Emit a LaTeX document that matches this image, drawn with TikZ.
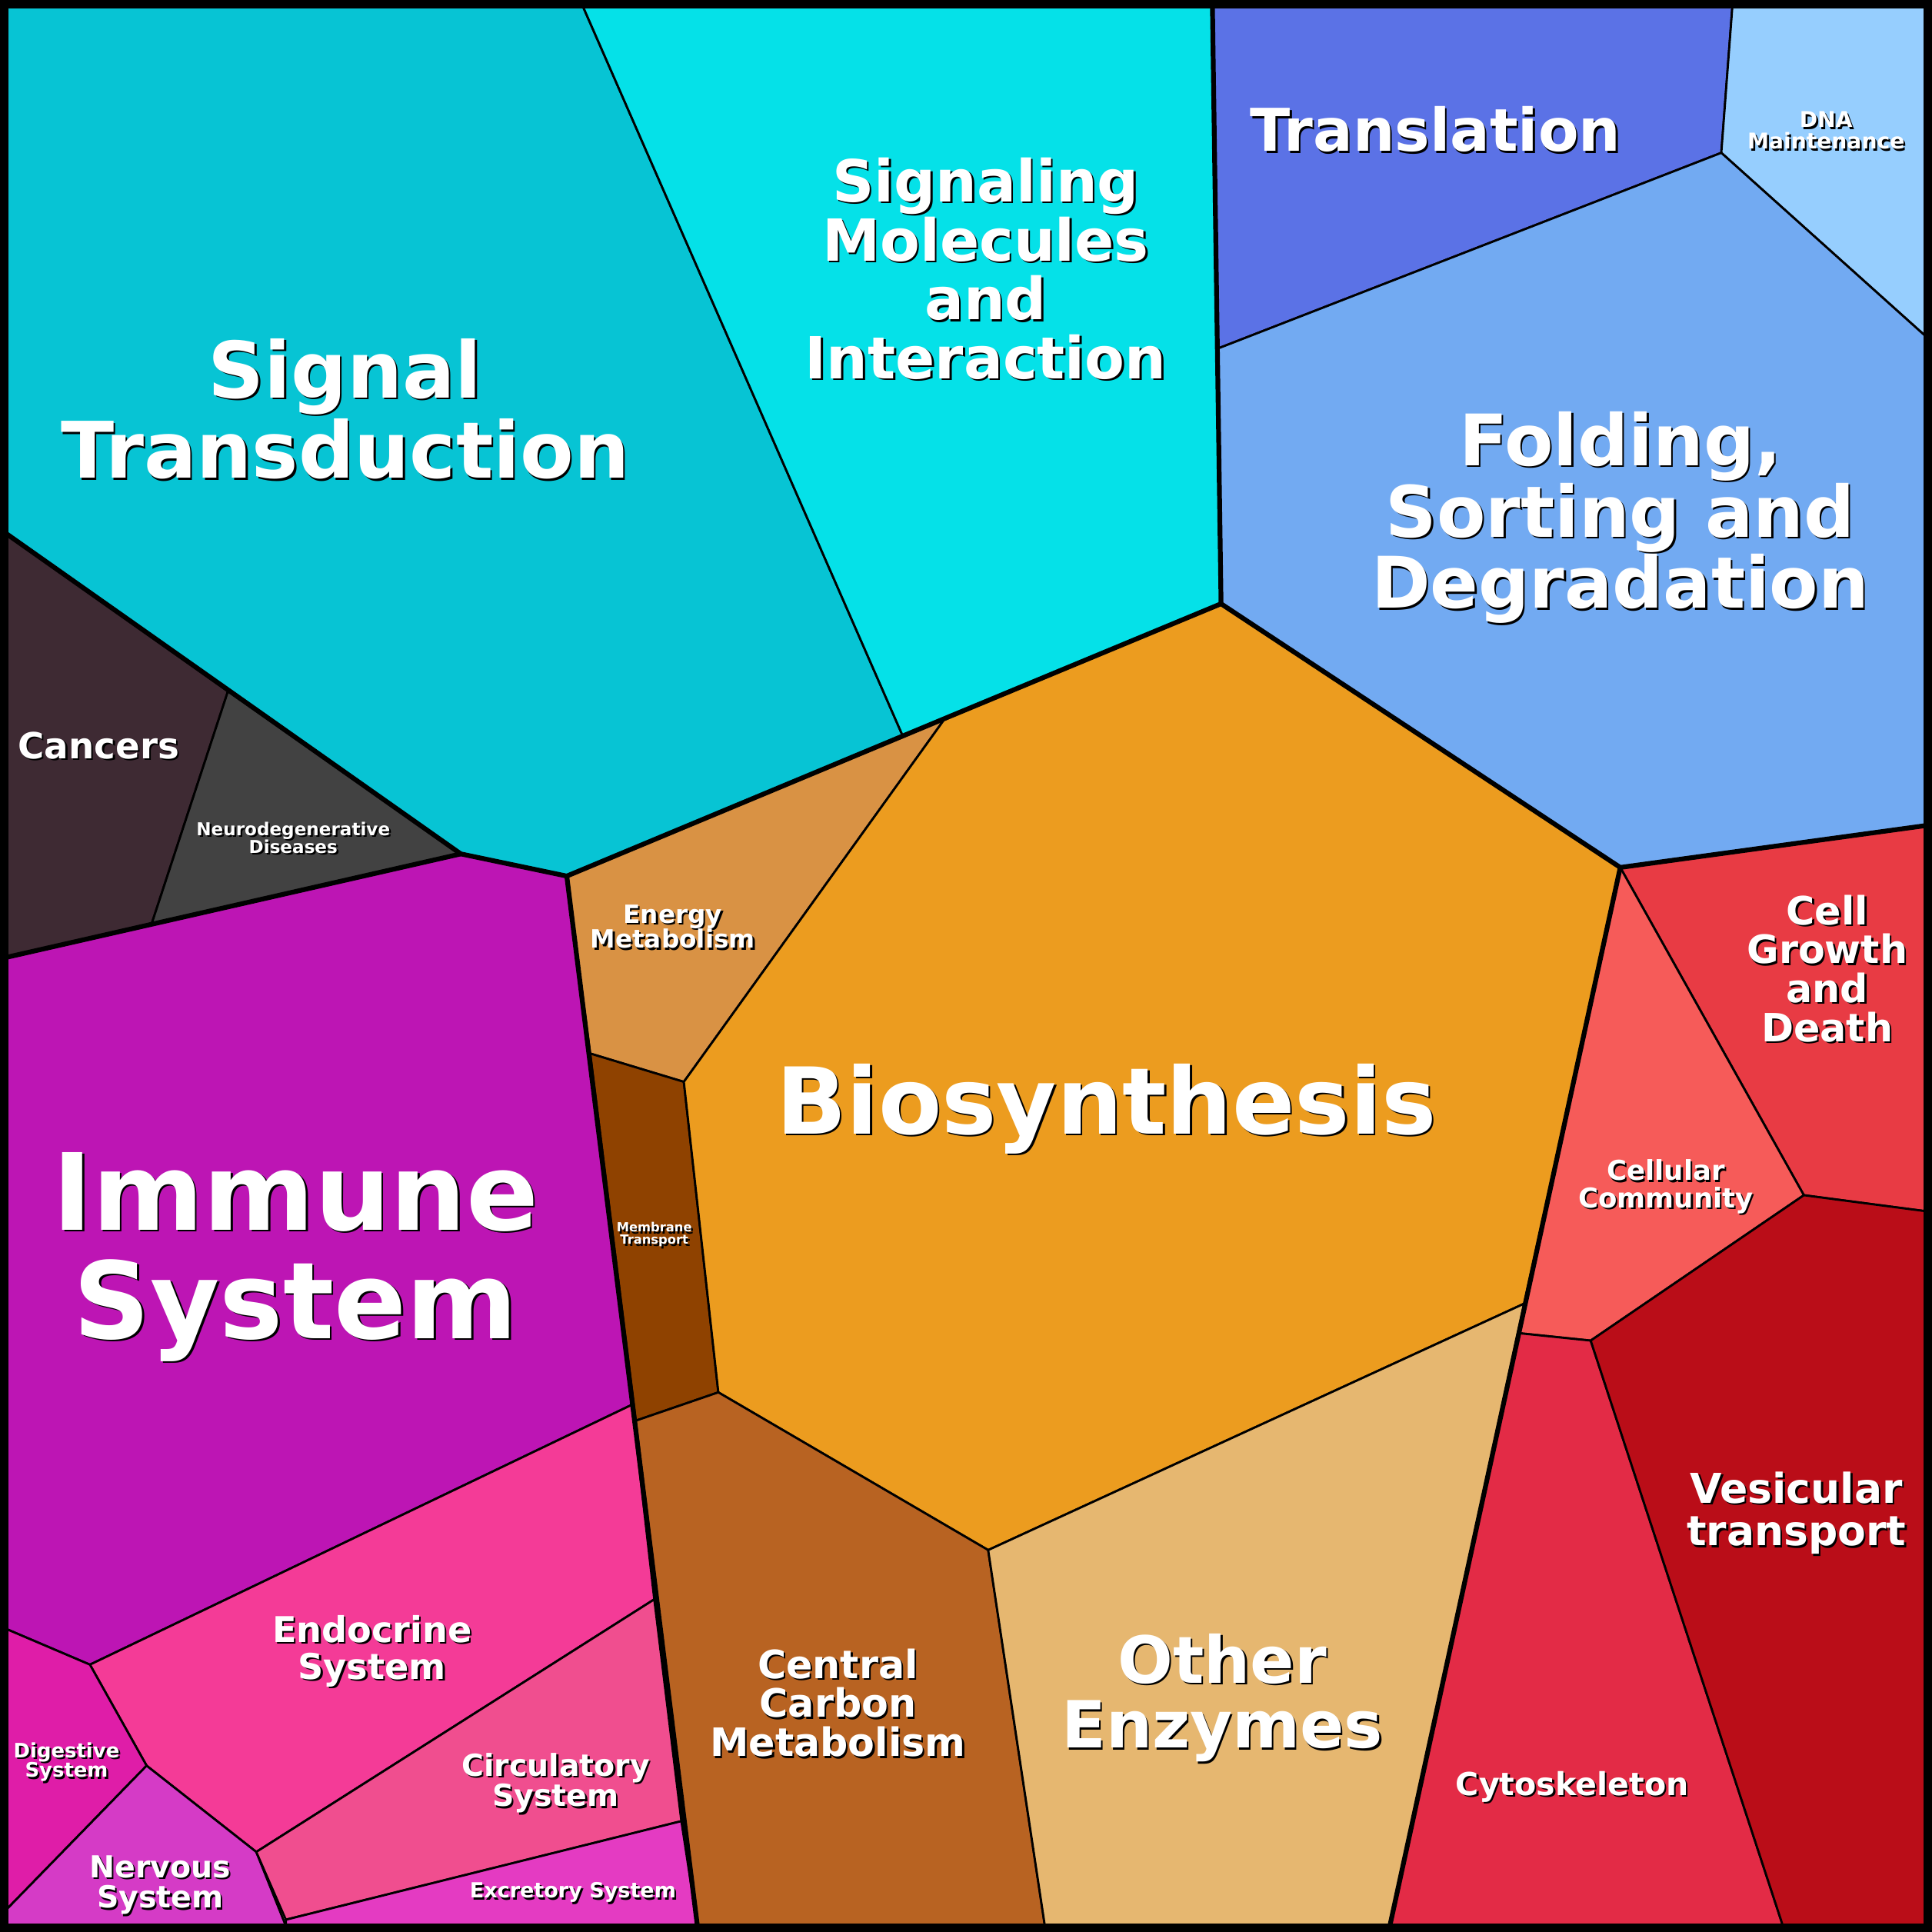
\documentclass[tikz,border=0pt]{standalone}
\usepackage{fontspec}
\setmainfont{DejaVu Sans}
\definecolor{sigtr}{HTML}{07C4D4}
\definecolor{sigmol}{HTML}{05E1E8}
\definecolor{transl}{HTML}{5B72E6}
\definecolor{dnam}{HTML}{96CEFE}
\definecolor{fold}{HTML}{72AAF2}
\definecolor{cancer}{HTML}{3E2A33}
\definecolor{neuro}{HTML}{424242}
\definecolor{immune}{HTML}{BD15B4}
\definecolor{energy}{HTML}{D99244}
\definecolor{membr}{HTML}{8F4200}
\definecolor{biosyn}{HTML}{EC9C1F}
\definecolor{carbon}{HTML}{B86322}
\definecolor{otherenz}{HTML}{E6B770}
\definecolor{endocr}{HTML}{F43B97}
\definecolor{digest}{HTML}{DF1DA8}
\definecolor{nervous}{HTML}{D53BC6}
\definecolor{circul}{HTML}{F04E8F}
\definecolor{excret}{HTML}{E43BC2}
\definecolor{cellgr}{HTML}{E83B44}
\definecolor{cellcom}{HTML}{F65B59}
\definecolor{cytosk}{HTML}{E32B46}
\definecolor{vesic}{HTML}{BA0D18}
\tikzset{
  cell/.style={draw=black, line width=0.5pt, line join=round},
  border/.style={draw=black, line width=1.1pt, line cap=round, line join=round},
  lab/.style={text=white, align=center, inner sep=0pt},
  labshadow/.style={text=black, align=center, inner sep=0pt}
}
% label with a dark drop shadow: x, y, font size, line skip, text
\newcommand\lbl[5]{%
  \node[labshadow, font=\bfseries\fontsize{#3}{#4}\selectfont] at (#1+1.5,#2+1.5) {#5};
  \node[lab, font=\bfseries\fontsize{#3}{#4}\selectfont] at (#1,#2) {#5};}
\begin{document}
\begin{tikzpicture}[x=0.01cm, y=-0.01cm]
\useasboundingbox (0,0) rectangle (1568,1568);

% upper left: signalling and diseases
\fill[cell, fill=sigtr] (5,5) -- (473,5) -- (733,598) -- (460,711) -- (374,693) -- (5,433) -- cycle;
\fill[cell, fill=sigmol] (473,5) -- (984,5) -- (991,490) -- (767,583) -- (733,598) -- cycle;
\fill[cell, fill=cancer] (5,433) -- (185,561) -- (123,750) -- (5,777) -- cycle;
\fill[cell, fill=neuro] (185,561) -- (374,693) -- (123,750) -- cycle;

% upper right: genetic information
\fill[cell, fill=transl] (984,5) -- (1406,5) -- (1397,124) -- (988,283) -- cycle;
\fill[cell, fill=dnam] (1406,5) -- (1563,5) -- (1563,273) -- (1397,124) -- cycle;
\fill[cell, fill=fold] (988,283) -- (1397,124) -- (1563,273) -- (1563,670) -- (1315,704) -- (991,490) -- cycle;

% left: organismal systems
\fill[cell, fill=immune] (5,777) -- (123,750) -- (374,693) -- (460,711) -- (479,855) -- (513,1140) -- (73,1351) -- (5,1322) -- cycle;
\fill[cell, fill=endocr] (73,1351) -- (513,1140) -- (531,1298) -- (208,1503) -- (119,1433) -- cycle;
\fill[cell, fill=digest] (5,1322) -- (73,1351) -- (119,1433) -- (5,1550) -- cycle;
\fill[cell, fill=nervous] (5,1550) -- (119,1433) -- (208,1503) -- (232,1563) -- (5,1563) -- cycle;
\fill[cell, fill=circul] (208,1503) -- (531,1298) -- (553,1478) -- (232,1558) -- cycle;
\fill[cell, fill=excret] (232,1558) -- (553,1478) -- (566,1563) -- (232,1563) -- cycle;

% centre: metabolism
\fill[cell, fill=energy] (460,711) -- (733,598) -- (767,583) -- (555,878) -- (479,855) -- cycle;
\fill[cell, fill=membr] (479,855) -- (555,878) -- (583,1130) -- (516,1153) -- cycle;
\fill[cell, fill=biosyn] (767,583) -- (991,490) -- (1315,704) -- (1237,1058) -- (802,1258) -- (583,1130) -- (555,878) -- cycle;
\fill[cell, fill=carbon] (516,1153) -- (583,1130) -- (802,1258) -- (848,1563) -- (566,1563) -- cycle;
\fill[cell, fill=otherenz] (802,1258) -- (1237,1058) -- (1128,1563) -- (848,1563) -- cycle;

% right: cellular processes
\fill[cell, fill=cellgr] (1315,704) -- (1563,670) -- (1563,983) -- (1464,970) -- cycle;
\fill[cell, fill=cellcom] (1315,704) -- (1464,970) -- (1291,1088) -- (1233,1082) -- cycle;
\fill[cell, fill=cytosk] (1233,1082) -- (1291,1088) -- (1447,1563) -- (1128,1563) -- cycle;
\fill[cell, fill=vesic] (1291,1088) -- (1464,970) -- (1563,983) -- (1563,1563) -- (1447,1563) -- cycle;

% group borders
\draw[border] (5,433) -- (374,693) -- (460,711) -- (767,583) -- (991,490) -- (1315,704) -- (1563,670);
\draw[border] (984,5) -- (991,490);
\draw[border] (1315,704) -- (1128,1563);
\draw[border] (460,711) -- (566,1563);
\draw[border] (5,777) -- (374,693);
\draw[black, line width=2.2pt] (3,3) rectangle (1565,1565);

% labels
\lbl{280}{332}{18}{17.5}{Signal\\Transduction}
\lbl{800}{218}{13.4}{13.6}{Signaling\\Molecules\\and\\Interaction}
\lbl{1165}{105}{13.6}{14}{Translation}
\lbl{1482}{106}{5}{5}{DNA\\Maintenance}
\lbl{1315}{420}{16.4}{16.5}{Folding,\\Sorting and\\Degradation}
\lbl{80}{605}{8.3}{8.3}{Cancers}
\lbl{238}{680}{4.1}{4.1}{Neurodegenerative\\Diseases}
\lbl{240}{1020}{24.6}{25}{Immune\\System}
\lbl{546}{752}{5.8}{5.8}{Energy\\Metabolism}
\lbl{531}{1002}{2.9}{2.9}{Membrane\\Transport}
\lbl{898}{900}{21.3}{21.3}{Biosynthesis}
\lbl{680}{1382}{9}{9}{Central\\Carbon\\Metabolism}
\lbl{992}{1378}{15}{15}{Other\\Enzymes}
\lbl{302}{1340}{8.2}{8.5}{Endocrine\\System}
\lbl{54}{1430}{4.6}{4.6}{Digestive\\System}
\lbl{130}{1530}{7}{7}{Nervous\\System}
\lbl{451}{1447}{7}{7}{Circulatory\\System}
\lbl{465}{1536}{4.8}{4.8}{Excretory System}
\lbl{1483}{786}{9}{9}{Cell\\Growth\\and\\Death}
\lbl{1352}{963}{6.3}{6.3}{Cellular\\Community}
\lbl{1276}{1450}{7.3}{7.3}{Cytoskeleton}
\lbl{1458}{1228}{9.5}{9.8}{Vesicular\\transport}
\end{tikzpicture}
\end{document}
